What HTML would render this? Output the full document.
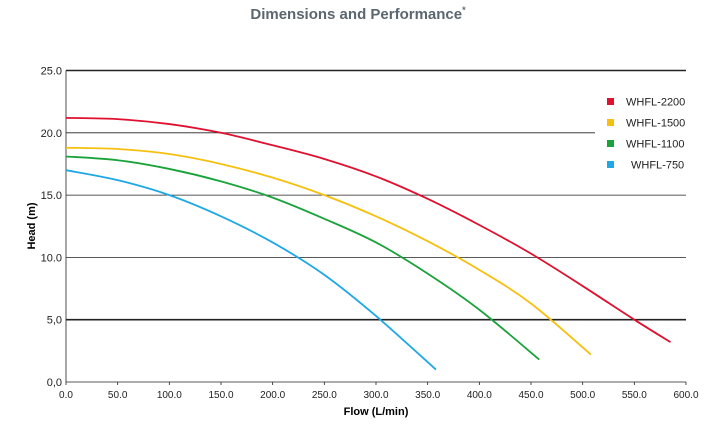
<!DOCTYPE html>
<html><head><meta charset="utf-8"><style>
body{margin:0;background:#fff;width:716px;height:423px;overflow:hidden;font-family:"Liberation Sans",sans-serif}
</style></head><body>
<svg id="c" width="716" height="423" font-family="Liberation Sans, sans-serif">
<text x="358" y="19" text-anchor="middle" font-size="15" font-weight="bold" fill="#5b6670">Dimensions and Performance<tspan font-size="9" dy="-6">*</tspan></text>
<g id="grid"></g><g id="series"></g>
<text transform="translate(35,226) rotate(-90)" text-anchor="middle" font-size="11" font-weight="bold">Head (m)</text>
<text x="376" y="415" text-anchor="middle" font-size="11" font-weight="bold">Flow (L/min)</text>
<g id="legend"></g>
</svg>
<script>
const xTicks=[0,50,100,150,200,250,300,350,400,450,500,550,600];
const xTickLabels=["0.0","50.0","100.0","150.0","200.0","250.0","300.0","350.0","400.0","450.0","500.0","550.0","600.0"];
const yTicks=[0,5,10,15,20,25];
const yTickLabels=["0,0","5,0","10.0","15.0","20.0","25.0"];
const seriesNames=["WHFL-2200","WHFL-1500","WHFL-1100","WHFL-750"];
const seriesColors=["#e0102f","#f5c010","#1aa33a","#1ea8e6"];
const flow2200=[0,50,100,150,200,250,300,350,400,450,500,550,585];
const head2200=[21.2,21.1,20.7,20.0,19.0,17.9,16.5,14.7,12.6,10.3,7.7,5.0,3.2];
const flow1500=[0,50,100,150,200,250,300,350,400,450,508];
const head1500=[18.8,18.7,18.3,17.5,16.4,15.0,13.3,11.3,9.0,6.3,2.2];
const flow1100=[0,50,100,150,200,250,300,350,400,458];
const head1100=[18.1,17.8,17.1,16.1,14.8,13.1,11.2,8.7,5.8,1.8];
const flow750=[0,50,100,150,200,250,300,358];
const head750=[17.0,16.2,15.0,13.3,11.2,8.6,5.3,1.0];
const NS="http://www.w3.org/2000/svg";
const X0=66,X1=686,Y0=382,Y1=70.5;
const xs=v=>X0+v*(X1-X0)/600, ys=v=>Y0-v*(Y0-Y1)/25;
function mk(t,a,p){const e=document.createElementNS(NS,t);for(const k in a)e.setAttribute(k,a[k]);p.appendChild(e);return e;}
const grid=document.getElementById('grid');
yTicks.forEach((v,i)=>{
  const l=mk('line',{x1:X0,x2:v===20?595:X1,y1:ys(v),y2:ys(v),stroke:'#222','stroke-width':(v===25||v===5)?1.6:0.8},grid);
  
  
  const t=mk('text',{x:X0-4,y:ys(v)+4,'text-anchor':'end','font-size':11,fill:'#222'},grid);t.textContent=yTickLabels[i];
  
  
});
const ax=mk('line',{x1:X0,x2:X0,y1:Y1,y2:Y0,stroke:'#222','stroke-width':0.8},grid);


xTicks.forEach((v,i)=>{
  mk('line',{x1:xs(v),x2:xs(v),y1:Y0,y2:Y0+3,stroke:'#222','stroke-width':0.8},grid);
  const t=mk('text',{x:xs(v),y:Y0+16,'text-anchor':'middle','font-size':10,fill:'#222'},grid);t.textContent=xTickLabels[i];
  
  
});
function smooth(fx,hy){const p=fx.map((f,i)=>[xs(f),ys(hy[i])]);let d=`M${p[0][0]},${p[0][1]}`;
  for(let i=0;i<p.length-1;i++){const a=p[i-1]||p[i],b=p[i],c=p[i+1],e=p[i+2]||c;
    d+=`C${b[0]+(c[0]-a[0])/6},${b[1]+(c[1]-a[1])/6} ${c[0]-(e[0]-b[0])/6},${c[1]-(e[1]-b[1])/6} ${c[0]},${c[1]}`;}return d;}
const data=[[flow2200,head2200],[flow1500,head1500],[flow1100,head1100],[flow750,head750]];
const sg=document.getElementById('series'),lg=document.getElementById('legend');
data.forEach((s,i)=>{
  const p=mk('path',{d:smooth(s[0],s[1]),fill:'none',stroke:seriesColors[i],'stroke-width':1.8},sg);
  
  
  const y=102+i*21;
  const r=mk('rect',{x:607,y:y-4,width:7,height:7,fill:seriesColors[i]},lg);
  
  
  const t=mk('text',{x:i===3?631:626,y:y+3.5,'font-size':11,fill:'#222'},lg);t.textContent=seriesNames[i];
  
  
});
</script>
</body></html>
